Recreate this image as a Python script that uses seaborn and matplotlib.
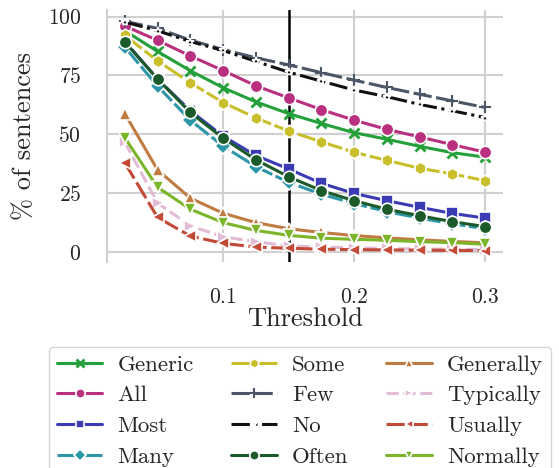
import matplotlib
matplotlib.use("Agg")
import matplotlib.pyplot as plt
import numpy as np
import pandas as pd
import seaborn as sns

# %% data
thresholds = [0.025, 0.05, 0.075, 0.1, 0.125, 0.15, 0.175, 0.2, 0.225, 0.25, 0.275, 0.3]

generic = [94.0, 85.2, 77.0, 69.8, 63.8, 58.8, 54.6, 50.7, 47.9, 44.9, 42.2, 40.3]
all_ = [96.0, 89.9, 83.3, 77.1, 70.6, 65.5, 60.5, 56.0, 52.1, 48.9, 45.6, 42.4]
most = [89.5, 73.5, 60.0, 49.2, 41.0, 35.3, 29.2, 24.9, 21.8, 19.0, 16.4, 14.4]
many = [87.0, 70.5, 56.0, 45.0, 36.3, 29.6, 24.6, 20.6, 17.2, 14.4, 12.0, 9.9]
some = [92.0, 81.2, 71.9, 63.5, 57.0, 51.4, 46.8, 42.4, 38.9, 35.6, 33.2, 30.3]
few = [98.0, 95.0, 90.0, 86.0, 82.5, 79.5, 76.2, 73.0, 69.9, 67.0, 64.2, 61.4]
no = [97.7, 94.0, 89.4, 85.6, 81.0, 76.4, 72.6, 68.8, 66.0, 62.7, 60.0, 57.1]
often = [89.2, 73.5, 59.3, 48.4, 39.2, 32.0, 26.1, 21.8, 18.2, 15.4, 12.9, 10.8]
generally = [58.8, 34.9, 22.9, 16.5, 12.5, 9.9, 8.3, 7.0, 6.0, 5.2, 4.5, 3.9]
typically = [46.7, 20.8, 11.1, 6.5, 4.4, 2.6, 2.1, 1.8, 1.5, 1.3, 1.2, 1.0]
usually = [37.9, 14.7, 6.8, 3.7, 2.1, 1.6, 1.2, 1.0, 0.9, 0.8, 0.7, 0.6]
normally = [48.6, 27.5, 18.2, 12.5, 9.2, 7.1, 5.9, 5.4, 5.0, 4.4, 4.0, 3.3]

names = ["Generic", "All", "Most", "Many", "Some", "Few", "No", "Often",
         "Generally", "Typically", "Usually", "Normally"]
series = [generic, all_, most, many, some, few, no, often,
          generally, typically, usually, normally]

df = pd.DataFrame(
    [(n, t, v) for n, vals in zip(names, series) for t, v in zip(thresholds, vals)],
    columns=["word", "Threshold", "pct"],
)

# style per word: colour, marker, marker size, dash pattern
styles = {
    "Generic": ("#23a03a", "x", 7, "-"),
    "All": ("#b8307f", "o", 9, "-"),
    "Most": ("#3b3bb5", "s", 8, "-"),
    "Many": ("#2a96a8", "D", 8, (0, (7, 1.2))),
    "Some": ("#c8bf2b", "h", 9, (0, (7, 1.2))),
    "Few": ("#4b5666", "+", 9, (0, (6, 1.5))),
    "No": ("#111111", "*", 6, (0, (6, 1.5, 1, 1.5))),
    "Often": ("#1b5a2b", "o", 9, "-"),
    "Generally": ("#c07b40", "^", 8, "-"),
    "Typically": ("#e2bcd6", ">", 8, (0, (4, 1.5))),
    "Usually": ("#c24a36", "<", 8, (0, (6, 1.5))),
    "Normally": ("#7bb62a", "v", 8, "-"),
}

# %% plot
sns.set_style("whitegrid")
plt.rcParams["font.family"] = "serif"
plt.rcParams["font.serif"] = ["cmr10", "DejaVu Serif"]
plt.rcParams["mathtext.fontset"] = "cm"
plt.rcParams["axes.formatter.use_mathtext"] = True

fig, ax = plt.subplots(figsize=(5.59, 4.68), dpi=100)
fig.subplots_adjust(left=0.191, right=0.9, top=0.979, bottom=0.44)

ax.axvline(0.15, color="black", linewidth=1.8, zorder=1)

for name in names:
    color, marker, ms, ls = styles[name]
    line_art = marker in ("x", "+")
    sns.lineplot(
        data=df[df.word == name], x="Threshold", y="pct",
        color=color, marker=marker, markersize=ms, linestyle=ls,
        linewidth=2.2,
        markeredgecolor=color if line_art else "white",
        markeredgewidth=(2.0 if marker == "x" else 1.5) if line_art else 1.2,
        label=name, ax=ax, zorder=2,
    )

ax.set_xticks([0.1, 0.2, 0.3])
ax.set_yticks([0, 25, 50, 75, 100])
ax.set_xlabel("Threshold", fontsize=19, labelpad=0)
ax.set_ylabel("% of sentences", fontsize=19, labelpad=8)
ax.tick_params(labelsize=15.5, pad=15)
ax.grid(color="#d0d0d0", linewidth=1.5)
sns.despine(ax=ax, top=True, right=True, bottom=True)
ax.spines["left"].set_color("#d0d0d0")
ax.spines["left"].set_linewidth(1.5)

handles, labels = ax.get_legend_handles_labels()
ax.get_legend().remove()
leg = fig.legend(
    handles, labels, ncol=3, loc="upper left", bbox_to_anchor=(0.087, 0.259),
    fontsize=16.5, frameon=True, handlelength=2.0, columnspacing=1.65,
    labelspacing=0.46, borderpad=0.35, handletextpad=0.65, markerscale=0.75,
    borderaxespad=0,
)
leg.get_frame().set_edgecolor("#cccccc")

plt.savefig("out.png", dpi=100)
